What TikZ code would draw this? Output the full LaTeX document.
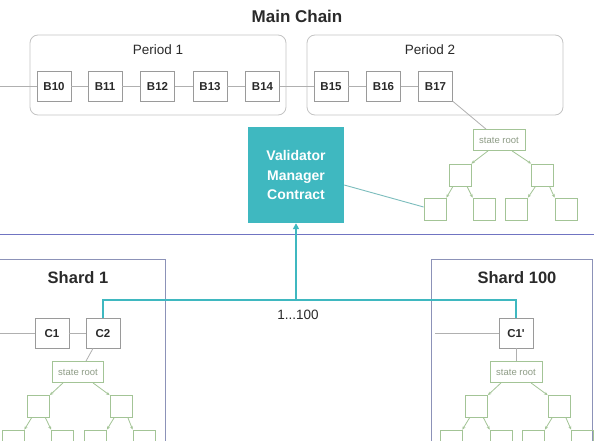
\documentclass[tikz,border=0pt]{standalone}
\usepackage{fontspec}
\setmainfont{Liberation Sans}
\usetikzlibrary{calc,arrows.meta}
\definecolor{tealc}{HTML}{3FB8C0}
\definecolor{tealline}{HTML}{7CBDBD}
\definecolor{purplel}{HTML}{7074C2}
\definecolor{shardc}{HTML}{8C92B8}
\definecolor{greyb}{HTML}{9A9A9A}
\definecolor{greyl}{HTML}{B0B0B0}
\definecolor{periodc}{HTML}{C4C4C4}
\definecolor{treeg}{HTML}{A3C496}
\definecolor{treet}{HTML}{8E9C86}
\definecolor{txt}{HTML}{2A2A2A}
\begin{document}
\begin{tikzpicture}[x=1pt,y=-1pt,
  title/.style={font=\fontsize{17}{20}\selectfont\bfseries, text=txt},
  stitle/.style={font=\fontsize{16.5}{20}\selectfont\bfseries, text=txt},
  plabel/.style={font=\fontsize{13.5}{16}\selectfont, text=txt},
  period/.style={draw=periodc, line width=0.8pt, rounded corners=8pt},
  blk/.style={draw=greyb, line width=0.8pt, minimum width=34pt, minimum height=30pt, inner sep=0pt, text height=8.2pt, text depth=0pt, font=\fontsize{11.5}{13}\selectfont\bfseries, text=txt},
  gline/.style={draw=greyl, line width=0.8pt},
  sroot/.style={draw=treeg, line width=0.8pt, minimum width=52pt, minimum height=21pt, inner sep=0pt, font=\fontsize{9.5}{11}\selectfont, text=treet},
  tbox/.style={draw=treeg, line width=0.8pt, minimum width=22pt, minimum height=22pt, inner sep=0pt},
  tarrow/.style={draw=treeg, line width=0.8pt, -{Stealth[length=3.5pt,width=3pt]}},
  shard/.style={draw=shardc, line width=0.9pt, inner sep=0pt},
  vmcbox/.style={fill=tealc, minimum width=96pt, minimum height=96pt, inner sep=0pt, align=center, text=white, font=\fontsize{14}{19.5}\selectfont\bfseries},
  tealpath/.style={draw=tealc, line width=1.6pt},
  tealarrow/.style={draw=tealc, line width=1.6pt, -{Triangle[length=6pt,width=6pt]}},
  connl/.style={draw=tealline, line width=0.9pt}
]
\useasboundingbox (0,0) rectangle (594,441);
\clip (0,0) rectangle (594,441);
\fill[white] (0,0) rectangle (594,441);

% ---------- Main chain ----------
\node[title] (mt) at (297,16) {Main Chain};
\node[period, minimum width=256pt, minimum height=80pt] (p1) at (158,75) {};
\node[period, minimum width=256pt, minimum height=80pt] (p2) at (435,75) {};
\node[plabel] (p1l) at (158,50) {Period 1};
\node[plabel] (p2l) at (430,50) {Period 2};

\node[blk] (b10) at (54,86) {B10};
\node[blk] (b11) at (105,86) {B11};
\node[blk] (b12) at (157.5,86) {B12};
\node[blk] (b13) at (210,86) {B13};
\node[blk] (b14) at (262.5,86) {B14};
\node[blk] (b15) at (331,86) {B15};
\node[blk] (b16) at (383.5,86) {B16};
\node[blk] (b17) at (435.5,86) {B17};
\coordinate (mstart) at (0,86);
\draw[gline] (mstart) -- (b10);
\draw[gline] (b10) -- (b11);
\draw[gline] (b11) -- (b12);
\draw[gline] (b12) -- (b13);
\draw[gline] (b13) -- (b14);
\draw[gline] (b14) -- (b15);
\draw[gline] (b15) -- (b16);
\draw[gline] (b16) -- (b17);

% main state tree
\node[sroot] (msr) at (499,140) {state root};
\node[tbox] (ml1a) at (460,175) {};
\node[tbox] (ml1b) at (542.5,175) {};
\node[tbox] (ml2a) at (435,209) {};
\node[tbox] (ml2b) at (484,209) {};
\node[tbox] (ml2c) at (516.5,209) {};
\node[tbox] (ml2d) at (566,209) {};
\draw[gline] (b17.south east) -- ($(msr.north)+(-13,0)$);
\draw[tarrow] ($(msr.south)+(-11,0)$) -- (ml1a.north east);
\draw[tarrow] ($(msr.south)+(13,0)$) -- (ml1b.north west);
\draw[tarrow] ($(ml1a.south)+(-7,0)$) -- (ml2a.north east);
\draw[tarrow] ($(ml1a.south)+(7,0)$) -- (ml2b.north west);
\draw[tarrow] ($(ml1b.south)+(-7,0)$) -- (ml2c.north east);
\draw[tarrow] ($(ml1b.south)+(7,0)$) -- (ml2d.north west);

% VMC
\node[vmcbox] (vmc) at (296,175) {Validator\\Manager\\Contract};
\draw[connl] ($(vmc.east)+(0,10)$) -- ($(ml2a.west)+(0,-2)$);

% separator
\coordinate (hl) at (0,234);
\coordinate (hr) at (594,234);
\draw[draw=purplel, line width=0.9pt] (hl) -- (hr);

% ---------- Shards ----------
\node[shard, minimum width=175pt, minimum height=200pt] (s1) at (77.5,359) {};
\node[shard, minimum width=161.5pt, minimum height=200pt] (s2) at (511.75,359) {};
\node[stitle] (s1t) at (78,278) {Shard 1};
\node[stitle] (s2t) at (517,278) {Shard 100};

\node[blk] (c1) at (52,333) {C1};
\node[blk] (c2) at (103,333) {C2};
\node[blk] (c1p) at (516,333) {C1\textquotesingle};
\coordinate (cstart) at (0,333);
\coordinate (cpstart) at (435,333);
\draw[gline] (cstart) -- (c1);
\draw[gline] (c1) -- (c2);
\draw[gline] (cpstart) -- (c1p);

% teal links
\coordinate (tj) at (296,300);
\draw[tealpath] (c2.north) -- (c2.north |- tj) -- (c1p.north |- tj) -- (c1p.north);
\draw[tealarrow] (tj) -- (vmc.south);
\node[plabel] (lbl) at (298,315) {1...100};

% shard 1 tree
\node[sroot, minimum width=51pt] (s1sr) at (78,372) {state root};
\node[tbox] (s1a) at (38.5,406.5) {};
\node[tbox] (s1b) at (121,406.5) {};
\node[tbox] (s1c) at (13,441) {};
\node[tbox] (s1d) at (62.5,441) {};
\node[tbox] (s1e) at (95.5,441) {};
\node[tbox] (s1f) at (144,441) {};
\draw[gline] ($(c2.south)+(-10,0)$) -- ($(s1sr.north)+(8,0)$);
\draw[tarrow] ($(s1sr.south)+(-15,0)$) -- (s1a.north east);
\draw[tarrow] ($(s1sr.south)+(15,0)$) -- (s1b.north west);
\draw[tarrow] ($(s1a.south)+(-7,0)$) -- (s1c.north east);
\draw[tarrow] ($(s1a.south)+(7,0)$) -- (s1d.north west);
\draw[tarrow] ($(s1b.south)+(-7,0)$) -- (s1e.north east);
\draw[tarrow] ($(s1b.south)+(7,0)$) -- (s1f.north west);

% shard 100 tree
\node[sroot] (s2sr) at (516,372) {state root};
\node[tbox] (s2a) at (476.5,406.5) {};
\node[tbox] (s2b) at (559,406.5) {};
\node[tbox] (s2c) at (451,441) {};
\node[tbox] (s2d) at (501,441) {};
\node[tbox] (s2e) at (533.5,441) {};
\node[tbox] (s2f) at (582.5,441) {};
\draw[gline] (c1p.south) -- (s2sr.north);
\draw[tarrow] ($(s2sr.south)+(-15,0)$) -- (s2a.north east);
\draw[tarrow] ($(s2sr.south)+(15,0)$) -- (s2b.north west);
\draw[tarrow] ($(s2a.south)+(-7,0)$) -- (s2c.north east);
\draw[tarrow] ($(s2a.south)+(7,0)$) -- (s2d.north west);
\draw[tarrow] ($(s2b.south)+(-7,0)$) -- (s2e.north east);
\draw[tarrow] ($(s2b.south)+(7,0)$) -- (s2f.north west);
\end{tikzpicture}
\end{document}
